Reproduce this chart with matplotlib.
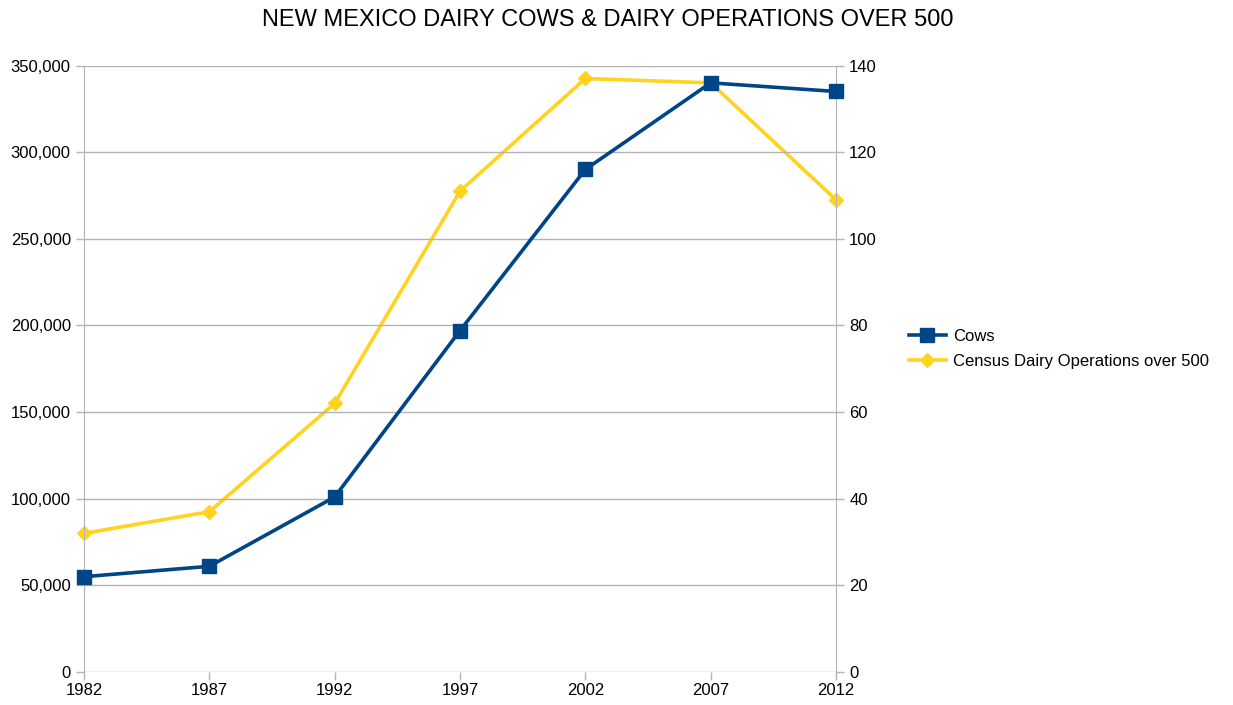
import matplotlib
matplotlib.use("Agg")
import matplotlib.pyplot as plt
from matplotlib.ticker import FuncFormatter

plt.rcParams['font.family'] = ['Liberation Sans', 'DejaVu Sans']

years = ['1982', '1987', '1992', '1997', '2002', '2007', '2012']
cows = [55000, 61000, 101000, 197000, 290000, 340000, 335000]
operations = [32, 37, 62, 111, 137, 136, 109]

BLUE = '#004586'
YELLOW = '#ffd320'
GRID = '#b3b3b3'

fig = plt.figure(figsize=(12.33, 7.05), dpi=100)
ax = fig.add_axes([84 / 1233, 33 / 705, (836 - 84) / 1233, (672 - 65.5) / 705])
ax2 = ax.twinx()

x = list(range(len(years)))
l1, = ax.plot(x, cows, color=BLUE, lw=2.6, marker='s', ms=10, label='Cows',
              zorder=3, clip_on=False)
l2, = ax2.plot(x, operations, color=YELLOW, lw=2.6, marker='D', ms=7,
               label='Census Dairy Operations over 500', zorder=2, clip_on=False)
ax.set_zorder(ax2.get_zorder() + 1)
ax.patch.set_visible(False)

ax.set_xlim(0, len(years) - 1)
ax.set_ylim(0, 350000)
ax2.set_ylim(0, 140)
ax.set_yticks(range(0, 350001, 50000))
ax2.set_yticks(range(0, 141, 20))
ax.yaxis.set_major_formatter(FuncFormatter(lambda v, p: f'{int(v):,}'))
ax.set_xticks(x)
ax.set_xticklabels(years)

ax.grid(axis='y', color=GRID, lw=1)
for a in (ax, ax2):
    for s in ('top', 'bottom'):
        a.spines[s].set_visible(False)
    a.spines['left'].set_color(GRID)
    a.spines['right'].set_color(GRID)
    a.tick_params(colors=GRID, labelcolor='#000000', labelsize=12, length=6, width=1)
ax.spines['right'].set_visible(False)
ax2.spines['left'].set_visible(False)
ax.tick_params(axis='x', pad=2)

fig.text(608 / 1233, 1 - 20 / 705, 'NEW MEXICO DAIRY COWS & DAIRY OPERATIONS OVER 500',
         ha='center', va='center', fontsize=17)

fig.legend(handles=[l1, l2], loc='center left', bbox_to_anchor=(894 / 1233, 1 - 349 / 705),
           frameon=False, fontsize=12, handlelength=2.2, handletextpad=0.45, labelspacing=0.62)

fig.savefig('out.png', dpi=100)
